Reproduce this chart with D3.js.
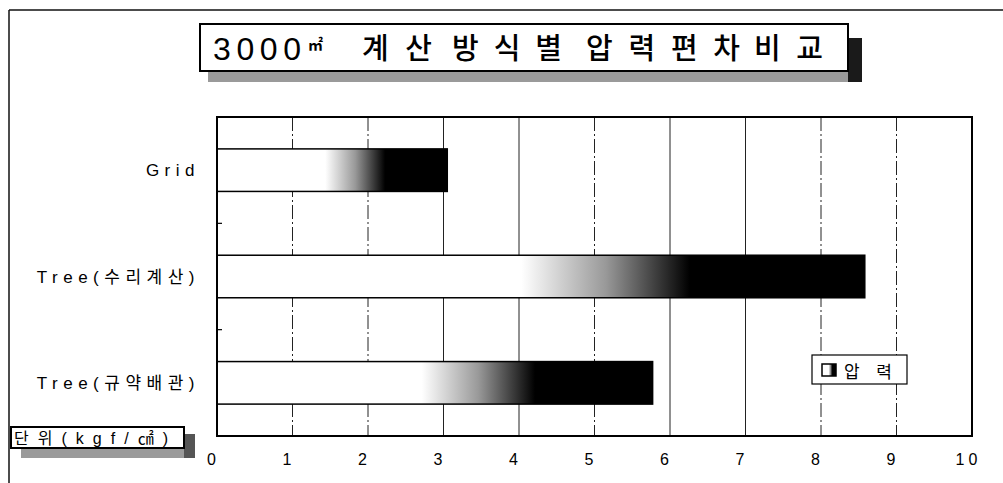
<!DOCTYPE html>
<html><head><meta charset="utf-8">
<script src="https://cdn.jsdelivr.net/npm/d3@7"></script>
<style>
html,body{margin:0;padding:0;background:#fff;}
svg{display:block;font-family:"Liberation Sans","Noto Sans CJK KR",sans-serif;}
</style></head>
<body><svg id="c" width="1003" height="483"></svg>
<script>
const categories = ["Grid", "Tree(수리계산)", "Tree(규약배관)"];
const values = [3.05, 8.58, 5.77];
const tickValues = [0,1,2,3,4,5,6,7,8,9,10];
const titleWords = ["3000", "㎡", "계산", "방식별", "압력편차", "비교"];
const unitText = "단 위 ( k g f / ㎠ )";
const legendText = "압 력";

const svg = d3.select("#c");
const W = 1003, H = 483;
const m = {l:217, r:972, t:117, b:436};

const x = d3.scaleLinear().domain([0,10]).range([m.l, m.r]);
const y = d3.scaleBand().domain(categories).range([m.t, m.b]).paddingInner(0.6).paddingOuter(0.3);

const defs = svg.append("defs");
const grad = defs.append("linearGradient").attr("id","barGrad").attr("x1","0").attr("x2","1").attr("y1","0").attr("y2","0");
grad.append("stop").attr("offset","0").attr("stop-color","#fff");
grad.append("stop").attr("offset","0.47").attr("stop-color","#fff");
grad.append("stop").attr("offset","0.6").attr("stop-color","#999");
grad.append("stop").attr("offset","0.73").attr("stop-color","#000");
grad.append("stop").attr("offset","1").attr("stop-color","#000");

// outer frame (top and left lines)
svg.append("line").attr("x1",9).attr("x2",W).attr("y1",10).attr("y2",10).attr("stroke","#111").attr("stroke-width",1.5);
svg.append("line").attr("x1",9).attr("x2",9).attr("y1",10).attr("y2",H).attr("stroke","#111").attr("stroke-width",1.5);

// title box with shadow
svg.append("rect").attr("x",208).attr("y",70).attr("width",654).attr("height",12).attr("fill","#9a9a9a");
svg.append("rect").attr("x",848).attr("y",38).attr("width",14).attr("height",44).attr("fill","#1a1a1a");
svg.append("rect").attr("x",200).attr("y",24).attr("width",648).attr("height",47).attr("fill","#fff").attr("stroke","#000").attr("stroke-width",2);
// title words: [x start, textLength, font-size, baseline, family]
const titleLayout = [
  [213, 88, 32, 60, "'Liberation Sans',sans-serif"],
  [308, 18, 15, 50, "'Liberation Sans','Noto Sans CJK KR',sans-serif"],
  [362, 70, 29, 59, "'Noto Sans CJK KR',sans-serif"],
  [452, 110, 29, 59, "'Noto Sans CJK KR',sans-serif"],
  [586, 154, 29, 59, "'Noto Sans CJK KR',sans-serif"],
  [754, 69, 29, 59, "'Noto Sans CJK KR',sans-serif"]
];
svg.append("g").selectAll("text").data(titleWords).join("text")
  .attr("x",(d,i)=>titleLayout[i][0]).attr("y",(d,i)=>titleLayout[i][3])
  .attr("font-size",(d,i)=>titleLayout[i][2]).attr("font-family",(d,i)=>titleLayout[i][4])
  .attr("font-weight",(d,i)=>i===1?"bold":"500")
  .attr("textLength",(d,i)=>titleLayout[i][1]).attr("lengthAdjust","spacing")
  .attr("fill","#000").text(d=>d);

// plot background
svg.append("rect").attr("x",m.l).attr("y",m.t).attr("width",m.r-m.l).attr("height",m.b-m.t).attr("fill","#fff");

// vertical gridlines
svg.append("g").selectAll("line").data(tickValues.filter(d=>d>0 && d<10)).join("line")
  .attr("x1",d=>x(d)).attr("x2",d=>x(d)).attr("y1",m.t).attr("y2",m.b)
  .attr("stroke","#222").attr("stroke-width",1)
  .attr("stroke-dasharray",d=>[1,2,5,8,9].includes(d)?"14,3,2,3":null);

// category boundary ticks (inward)
const bounds = categories.slice(0,-1).map(c => y(c) + y.bandwidth() + (y.step()-y.bandwidth())/2);
svg.append("g").selectAll("line").data(bounds).join("line")
  .attr("x1",m.l).attr("x2",m.l+5).attr("y1",d=>d).attr("y2",d=>d).attr("stroke","#000").attr("stroke-width",1.2);

// bars
svg.append("g").selectAll("rect").data(values).join("rect")
  .attr("x",x(0)).attr("y",(d,i)=>y(categories[i]))
  .attr("width",d=>x(d)-x(0)).attr("height",y.bandwidth())
  .attr("fill","url(#barGrad)").attr("stroke","#000").attr("stroke-width",1.5);

// plot border
svg.append("rect").attr("x",m.l).attr("y",m.t).attr("width",m.r-m.l).attr("height",m.b-m.t)
  .attr("fill","none").attr("stroke","#000").attr("stroke-width",2);

// category labels
svg.append("g").selectAll("text").data(categories).join("text")
  .attr("x",200).attr("y",d=>y(d)+y.bandwidth()/2+6)
  .attr("text-anchor","end").attr("font-size",17).attr("letter-spacing","5.5px")
  .attr("fill","#000").text(d=>d);

// x axis labels
const xAxis = d3.axisBottom(x).tickValues(tickValues).tickSize(0).tickPadding(0).tickFormat(d3.format("d"));
const gx = svg.append("g").attr("transform",`translate(-4,454)`).call(xAxis);
gx.select(".domain").remove();
gx.selectAll("text").attr("font-size",16).attr("font-family","'Liberation Sans',sans-serif").attr("fill","#000").attr("letter-spacing","4px");

// legend
svg.append("rect").attr("x",812).attr("y",355).attr("width",95).attr("height",29).attr("fill","#fff").attr("stroke","#000").attr("stroke-width",1.2);
svg.append("rect").attr("x",822).attr("y",364).attr("width",14).attr("height",12).attr("fill","url(#barGrad)").attr("stroke","#000").attr("stroke-width",1.5);
svg.append("text").attr("x",844).attr("y",378).attr("font-size",17).attr("letter-spacing","6px").attr("fill","#000").text(legendText);

// unit label box
svg.append("rect").attr("x",21).attr("y",447).attr("width",174).attr("height",11).attr("fill","#9a9a9a");
svg.append("rect").attr("x",184).attr("y",434).attr("width",11).attr("height",24).attr("fill","#555");
svg.append("rect").attr("x",11).attr("y",427).attr("width",173).attr("height",21).attr("fill","#fff").attr("stroke","#000").attr("stroke-width",2);
svg.append("text").attr("x",14).attr("y",444).attr("font-size",16).attr("fill","#000")
  .attr("textLength",154).attr("lengthAdjust","spacing").text(unitText);
</script></body></html>
